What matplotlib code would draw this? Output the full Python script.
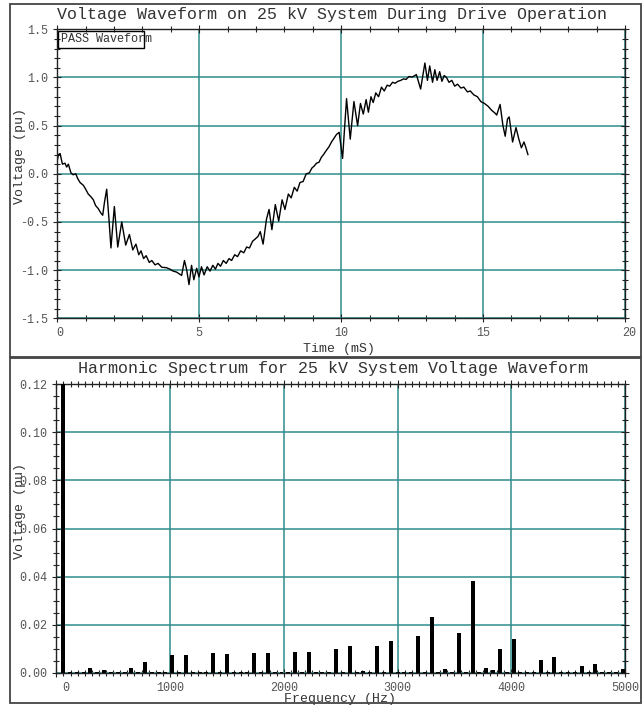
import numpy as np
import matplotlib
matplotlib.use("Agg")
import matplotlib.pyplot as plt
from matplotlib.patches import Rectangle
from matplotlib.ticker import MultipleLocator, FormatStrFormatter
from matplotlib.transforms import ScaledTranslation

plt.rcParams["font.family"] = ["Liberation Mono", "DejaVu Sans Mono"]
plt.rcParams["axes.unicode_minus"] = False

# ------------------------------------------------------------------ #
# Data
# ------------------------------------------------------------------ #
time_ms = [
    0.00, 0.04, 0.10, 0.18, 0.27, 0.33, 0.39, 0.48, 0.56, 0.65,
    0.72, 0.80, 0.92, 1.00, 1.09, 1.19, 1.27, 1.35, 1.44, 1.54,
    1.60, 1.66, 1.74, 1.82, 1.89, 2.01, 2.13, 2.27, 2.41, 2.54,
    2.66, 2.77, 2.87, 2.95, 3.04, 3.13, 3.24, 3.33, 3.44, 3.55,
    3.68, 3.85, 3.97, 4.08, 4.20, 4.30, 4.38, 4.48, 4.56, 4.64,
    4.73, 4.81, 4.91, 4.99, 5.08, 5.17, 5.28, 5.38, 5.48, 5.57,
    5.66, 5.75, 5.85, 5.95, 6.05, 6.14, 6.25, 6.35, 6.46, 6.57,
    6.67, 6.77, 6.88, 6.96, 7.07, 7.15, 7.25, 7.37, 7.46, 7.56,
    7.68, 7.80, 7.92, 8.02, 8.14, 8.24, 8.35, 8.45, 8.55, 8.66,
    8.77, 8.88, 8.97, 9.05, 9.13, 9.22, 9.30, 9.38, 9.47, 9.57,
    9.66, 9.75, 9.84, 9.93, 10.05, 10.19, 10.32, 10.45, 10.58, 10.68,
    10.78, 10.88, 10.96, 11.05, 11.13, 11.22, 11.32, 11.42, 11.52, 11.62,
    11.71, 11.81, 11.90, 12.00, 12.10, 12.20, 12.29, 12.39, 12.51, 12.65,
    12.80, 12.95, 13.04, 13.12, 13.22, 13.30, 13.38, 13.47, 13.55, 13.63,
    13.71, 13.80, 13.90, 14.00, 14.10, 14.22, 14.32, 14.45, 14.55, 14.67,
    14.80, 14.92, 15.05, 15.18, 15.30, 15.42, 15.48, 15.60, 15.70, 15.78,
    15.86, 15.92, 16.04, 16.16, 16.26, 16.35, 16.44, 16.50, 16.58,
]
voltage_pu = [
    0.14, 0.20, 0.21, 0.10, 0.11, 0.07, 0.10, 0.01, -0.01, 0.00,
    -0.05, -0.09, -0.12, -0.16, -0.21, -0.24, -0.27, -0.33, -0.36, -0.41,
    -0.43, -0.30, -0.16, -0.47, -0.77, -0.34, -0.76, -0.50, -0.74, -0.63,
    -0.79, -0.73, -0.84, -0.80, -0.88, -0.85, -0.92, -0.90, -0.945, -0.93,
    -0.97, -0.975, -0.99, -1.01, -1.02, -1.04, -1.055, -0.90, -1.00, -1.15,
    -0.95, -1.10, -0.98, -1.07, -0.965, -1.05, -0.965, -1.01, -0.95, -0.99,
    -0.93, -0.96, -0.90, -0.93, -0.88, -0.90, -0.84, -0.86, -0.80, -0.82,
    -0.76, -0.77, -0.70, -0.68, -0.65, -0.60, -0.73, -0.47, -0.37, -0.58,
    -0.32, -0.49, -0.27, -0.37, -0.21, -0.25, -0.14, -0.18, -0.09, -0.08,
    0.00, 0.01, 0.06, 0.08, 0.11, 0.12, 0.17, 0.20, 0.24, 0.28,
    0.33, 0.37, 0.41, 0.43, 0.16, 0.78, 0.36, 0.75, 0.50, 0.73,
    0.62, 0.77, 0.64, 0.80, 0.74, 0.84, 0.80, 0.90, 0.86, 0.92,
    0.91, 0.95, 0.94, 0.96, 0.97, 0.985, 0.98, 1.01, 1.005, 1.03,
    0.88, 1.15, 0.97, 1.12, 0.95, 1.08, 0.97, 1.06, 0.96, 1.02,
    1.00, 0.95, 0.97, 0.91, 0.93, 0.89, 0.90, 0.85, 0.86, 0.82,
    0.80, 0.75, 0.73, 0.70, 0.66, 0.63, 0.61, 0.72, 0.50, 0.39,
    0.57, 0.59, 0.33, 0.48, 0.36, 0.27, 0.33, 0.28, 0.20,
]

fundamental_hz = 60
harmonic_order = list(range(1, 84))
harmonic_pu = [
    1.0, 0.0004, 0.0004, 0.0004, 0.0018, 0.0004, 0.0011, 0.0004, 0.0004, 0.0004,
    0.0018, 0.0004, 0.0043, 0.0004, 0.0004, 0.0004, 0.0072, 0.0004, 0.0072, 0.0004,
    0.0004, 0.0004, 0.0080, 0.0004, 0.0078, 0.0004, 0.0004, 0.0004, 0.0080, 0.0004,
    0.0082, 0.0004, 0.0004, 0.0004, 0.0087, 0.0004, 0.0087, 0.0004, 0.0004, 0.0004,
    0.0098, 0.0004, 0.0110, 0.0004, 0.0007, 0.0004, 0.0112, 0.0004, 0.0130, 0.0004,
    0.0004, 0.0004, 0.0151, 0.0004, 0.0230, 0.0004, 0.0015, 0.0004, 0.0164, 0.0004,
    0.0381, 0.0004, 0.0021, 0.0010, 0.0097, 0.0004, 0.0140, 0.0004, 0.0004, 0.0004,
    0.0054, 0.0004, 0.0065, 0.0004, 0.0004, 0.0004, 0.0026, 0.0004, 0.0036, 0.0004,
    0.0004, 0.0004, 0.0015,
]

grid_col = "#2f8c8c"
txt_col = "#333333"
tick_col = "#555555"

fig = plt.figure(figsize=(6.44, 7.13), dpi=100)

# outer frames of the two panels
for y0, h in [(1 - 357 / 713, 353 / 713), (1 - 703 / 713, 345 / 713)]:
    fig.patches.append(Rectangle((10 / 644, y0), 631 / 644, h, transform=fig.transFigure,
                                 fill=False, edgecolor="#444444", linewidth=1.3))


def style_axes(ax):
    for sp in ax.spines.values():
        sp.set_color("#222222")
        sp.set_linewidth(1.0)
    ax.tick_params(which="both", direction="inout", top=True, right=True,
                   colors="#222222", labelcolor=tick_col, labelsize=8.5)
    ax.tick_params(which="major", length=6, width=0.8)
    ax.tick_params(which="minor", length=4, width=0.8)
    ax.grid(True, which="major", color=grid_col, linewidth=1.1)
    ax.set_axisbelow(True)


def nudge_xlabel(ax, loc, points):
    # shift one x tick label sideways (the reference offsets the end labels)
    for tick in ax.xaxis.get_major_ticks():
        if abs(tick.get_loc() - loc) < 1e-9:
            lab = tick.label1
            lab.set_transform(lab.get_transform()
                              + ScaledTranslation(points / 72, 0, fig.dpi_scale_trans))


# ------------------------------------------------------------------ #
# Top: voltage waveform
# ------------------------------------------------------------------ #
ax1 = fig.add_axes([57.3 / 644, 1 - 318.3 / 713, 567.7 / 644, 289 / 713])
ax1.plot(time_ms, voltage_pu, color="black", linewidth=1.0)
ax1.set_xlim(0, 20)
ax1.set_ylim(-1.5, 1.5)
ax1.xaxis.set_major_locator(MultipleLocator(5))
ax1.xaxis.set_minor_locator(MultipleLocator(1))
ax1.yaxis.set_major_locator(MultipleLocator(0.5))
ax1.yaxis.set_minor_locator(MultipleLocator(0.1))
ax1.yaxis.set_major_formatter(FormatStrFormatter("%.1f"))
style_axes(ax1)
ax1.set_xlabel("Time (mS)", fontsize=9.5, color=txt_col)
ax1.xaxis.set_label_coords(0.496, -0.085)
ax1.set_ylabel("Voltage (pu)", fontsize=9.5, color=txt_col)
ax1.yaxis.set_label_coords(-0.055, 0.56)

ax1.add_patch(Rectangle((0.002, 0.935), 0.151, 0.059, transform=ax1.transAxes,
                        fill=False, edgecolor="black", linewidth=1.0, zorder=5))
ax1.text(0.006, 0.965, "PASS Waveform", transform=ax1.transAxes, fontsize=8.5,
         color=txt_col, va="center", ha="left", zorder=6)

fig.text(0.516, 1 - 15 / 713, "Voltage Waveform on 25 kV System During Drive Operation",
         ha="center", va="center", fontsize=12, color=txt_col)

# ------------------------------------------------------------------ #
# Bottom: harmonic spectrum
# ------------------------------------------------------------------ #
freqs = [fundamental_hz * k for k in harmonic_order]

ax2 = fig.add_axes([56.3 / 644, 1 - 672.7 / 713, 568.7 / 644, 288.4 / 713])
ax2.bar(freqs, harmonic_pu, width=35, color="black", zorder=3)
ax2.set_xlim(0, 5000)
ax2.set_ylim(0, 0.12)
ax2.xaxis.set_major_locator(MultipleLocator(1000))
ax2.xaxis.set_minor_locator(MultipleLocator(62.5))
ax2.yaxis.set_major_locator(MultipleLocator(0.02))
ax2.yaxis.set_minor_locator(MultipleLocator(0.005))
ax2.yaxis.set_major_formatter(FormatStrFormatter("%.2f"))
style_axes(ax2)
ax2.set_xlabel("Frequency (Hz)", fontsize=9.5, color=txt_col)
ax2.xaxis.set_label_coords(0.499, -0.07)
ax2.set_ylabel("Voltage (pu)", fontsize=9.5, color=txt_col)
ax2.yaxis.set_label_coords(-0.053, 0.56)

fig.text(0.517, 1 - 369 / 713, "Harmonic Spectrum for 25 kV System Voltage Waveform",
         ha="center", va="center", fontsize=12, color=txt_col)

fig.canvas.draw()
nudge_xlabel(ax1, 0, 2)
nudge_xlabel(ax1, 20, 3)
nudge_xlabel(ax2, 0, 7)

fig.savefig("out.png", dpi=100)
